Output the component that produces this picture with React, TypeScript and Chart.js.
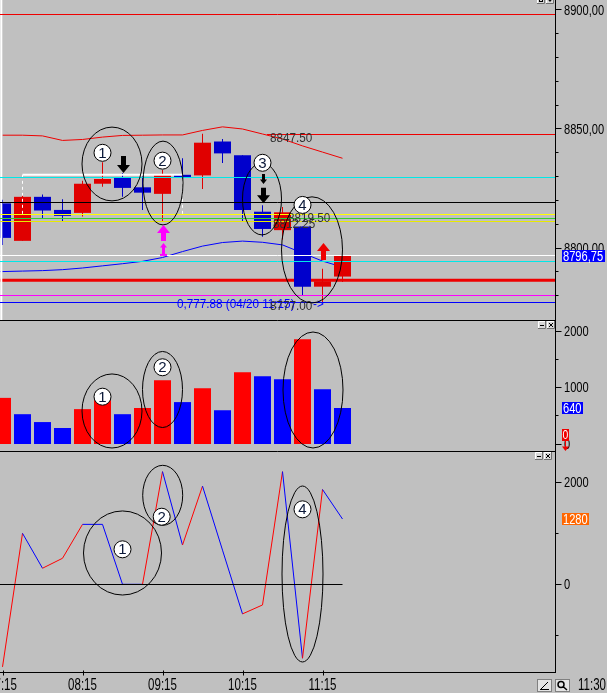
import React, { useEffect, useRef } from 'react';
import { Chart, registerables } from 'chart.js';

Chart.register(...registerables);

// ------------------------------------------------------------------ data
const times = ['07:15', '07:30', '07:45', '08:00', '08:15', '08:30', '08:45', '09:00', '09:15', '09:30', '09:45', '10:00', '10:15', '10:30', '10:45', '11:00', '11:15', '11:30'];
const opens = [8818.75, 8803.0, 8821.5, 8816.0, 8814.75, 8827.0, 8829.5, 8825.5, 8822.75, 8830.75, 8830.5, 8844.75, 8839.0, 8815.25, 8807.5, 8809.0, 8783.75, 8788.0];
const highs = [8820.25, 8823.0, 8822.5, 8820.5, 8828.25, 8836.0, 8831.5, 8830.0, 8832.75, 8837.75, 8848.0, 8845.75, 8839.0, 8818.0, 8817.25, 8809.0, 8791.25, 8796.75];
const lows = [8801.25, 8803.0, 8812.25, 8811.25, 8813.25, 8825.75, 8821.5, 8816.0, 8811.0, 8829.25, 8824.75, 8835.75, 8811.25, 8804.75, 8803.5, 8780.25, 8777.0, 8785.75];
const closes = [8804.25, 8821.5, 8815.75, 8813.5, 8827.0, 8829.0, 8825.25, 8823.25, 8830.75, 8829.75, 8844.25, 8839.75, 8816.0, 8808.0, 8815.0, 8783.75, 8786.0, 8796.75];
const upperBand = [8847.4, 8847.4, 8847.1, 8845.2, 8845.6, 8846.6, 8847.3, 8847.4, 8847.5, 8847.5, 8849.4, 8850.9, 8850.0, 8847.9, 8845.8, 8842.9, 8840.3, 8837.7];
const lowerBand = [8790.1, 8790.3, 8790.5, 8790.9, 8791.6, 8792.5, 8793.4, 8794.4, 8796.0, 8798.5, 8800.8, 8802.3, 8802.9, 8802.4, 8801.3, 8797.9, 8794.5, 8792.0];
const volumes = [820, 530, 390, 285, 620, 780, 530, 640, 1135, 745, 990, 600, 1275, 1205, 1150, 1860, 975, 640];
const volumeUp = [true, false, false, false, true, true, false, true, true, false, true, false, true, false, false, true, false, false];
const oscValues = [-1620, 1000, 315, 510, 1175, 1175, 0, 0, 2210, 770, 1925, 670, -580, -405, 2210, -1450, 1860, 1280];

// horizontal price levels (full width)
const levelPrices = [8898.0, 8829.75, 8819.0, 8814.25, 8812.25, 8811.25, 8796.75, 8794.25, 8780.0, 8777.0];
const supportPrice = 8786.5;
const rayPrice = 8847.5;
const rayStartIndex = 13.225;
const boxTopPrice = 8830.75;
const boxBottomPrice = 8814.0;
const boxFromIndex = 1;
const boxToIndex = 9;
const oscBaseline = 0;

// axis ticks
const priceTicks = [8780, 8790, 8800, 8810, 8820, 8830, 8840, 8850, 8860, 8870, 8880, 8890, 8900];
const priceLabelTicks = [8800, 8850, 8900];
const volumeTicks = [0, 500, 1000, 1500, 2000];
const volumeLabelTicks = [0, 1000, 2000];
const oscTicks = [-1000, 0, 1000, 2000];
const oscLabelTicks = [0, 2000];
const timeTickIndex = [0, 4, 8, 12, 16];
const lastTime = '11:30';

// annotations, in data coordinates (index, value)
const priceEllipses = [
  { x: 5.475, y: 8835.3, rx: 1.5, ry: 15.5 },
  { x: 8.025, y: 8827.3, rx: 1.0, ry: 17.6 },
  { x: 12.975, y: 8820.6, rx: 0.975, ry: 15.1 },
  { x: 15.475, y: 8799.2, rx: 1.525, ry: 22.3 },
];
const priceBadges = [
  { n: '1', x: 5, y: 8840.0 },
  { n: '2', x: 8, y: 8836.7 },
  { n: '3', x: 13, y: 8835.8 },
  { n: '4', x: 15, y: 8818.1 },
];
const priceArrows = [
  { x: 6, tip: 8831.5, tail: 8838.7, color: 'black', size: 'big', base: false },
  { x: 13, tip: 8826.9, tail: 8831.1, color: 'black', size: 'small', base: false },
  { x: 13, tip: 8818.8, tail: 8825.3, color: 'black', size: 'big', base: false },
  { x: 8, tip: 8809.7, tail: 8802.9, color: 'magenta', size: 'big', base: false },
  { x: 8, tip: 8802.1, tail: 8797.1, color: 'magenta', size: 'small', base: true },
  { x: 16, tip: 8802.1, tail: 8795.0, color: 'red', size: 'big', base: false },
];
const priceNotes = [
  { text: '8847.50', x: 13.375, y: 8846.2, color: 'dark' },
  { text: '0,777.88 (04/20 11:15)', x: 8.725, y: 8776.3, color: 'blue' },
  { text: '->', x: 15.525, y: 8776.3, color: 'blue' },
  { text: '8812.25', x: 13.525, y: 8810.1, color: 'dark' },
  { text: '8819.50', x: 14.275, y: 8812.4, color: 'dark' },
  { text: '8777.00', x: 13.375, y: 8775.4, color: 'dark' },
];
const volumeEllipses = [
  { x: 5.475, y: 587, rx: 1.5, ry: 658 },
  { x: 8.0, y: 969, rx: 1.0, ry: 676 },
  { x: 15.525, y: 960, rx: 1.5, ry: 1031 },
];
const volumeBadges = [
  { n: '1', x: 5, y: 841 },
  { n: '2', x: 8, y: 1364 },
];
const oscEllipses = [
  { x: 6.0, y: 614, rx: 1.95, ry: 824 },
  { x: 8.01, y: 1745, rx: 1.0, ry: 588 },
  { x: 15.0, y: 202, rx: 1.025, ry: 1725 },
];
const oscBadges = [
  { n: '1', x: 6, y: 686 },
  { n: '2', x: 7.96, y: 1325 },
  { n: '4', x: 15, y: 1470 },
];

// ------------------------------------------------------------------ styles
const BG = '#c0c0c0';
const FONT = '"Liberation Sans", Arial, sans-serif';
const AXIS_FONT_SIZE = 15;
const AXIS_SQUEEZE = 0.74;
const CANDLE_UP = '#e00000';
const CANDLE_DN = '#0000cc';
const VOL_UP = '#ff0000';
const VOL_DN = '#0000ff';
const LEVEL_STYLES = ['#ee0000', '#00e8e8', '#000000', '#ffff00', '#30d030', '#e8e800', '#ffffff', '#00e8e8', '#ff00ff', '#0000ff'];
const ARROW_COLORS: Record<string, string> = { black: '#000000', magenta: '#ff00ff', red: '#ee0000' };
const NOTE_COLORS: Record<string, string> = { dark: '#303030', blue: '#0000ff' };

const X_MIN = -0.125;
const X_MAX = 27.625;
const AXIS_W = 52;

const idx = times.map((_, i) => i);
const fmtPrice = (v: number) => v.toFixed(2).replace('.', ',');

// ------------------------------------------------------------------ drawing helpers
function squeezedText(ctx: any, text: string, x: number, y: number, size: number, squeeze: number, align: string) {
  ctx.font = `${size}px ${FONT}`;
  ctx.textAlign = align;
  ctx.textBaseline = 'middle';
  const w = ctx.measureText(text).width * squeeze;
  ctx.fillText(text, x, y, w);
}

function crispY(scale: any, v: number) {
  return Math.round(scale.getPixelForValue(v) - 0.5) + 0.5;
}

function drawLevels(chart: any) {
  const ctx = chart.ctx, xs = chart.scales.x, ys = chart.scales.y;
  ctx.save();
  ctx.lineWidth = 1;
  levelPrices.forEach((p, k) => {
    const y = crispY(ys, p);
    ctx.strokeStyle = LEVEL_STYLES[k];
    ctx.beginPath();
    ctx.moveTo(xs.getPixelForValue(X_MIN), y);
    ctx.lineTo(xs.getPixelForValue(X_MAX), y);
    ctx.stroke();
  });
  const ry = crispY(ys, rayPrice);
  ctx.strokeStyle = '#ee0000';
  ctx.beginPath();
  ctx.moveTo(xs.getPixelForValue(rayStartIndex), ry);
  ctx.lineTo(xs.getPixelForValue(X_MAX), ry);
  ctx.stroke();
  ctx.restore();
}

function drawEllipses(chart: any, list: any[]) {
  const ctx = chart.ctx, xs = chart.scales.x, ys = chart.scales.y;
  ctx.save();
  ctx.strokeStyle = '#000';
  ctx.lineWidth = 1;
  for (const e of list) {
    const cx = xs.getPixelForValue(e.x), cy = ys.getPixelForValue(e.y);
    const rx = Math.abs(xs.getPixelForValue(e.x + e.rx) - cx);
    const ry = Math.abs(ys.getPixelForValue(e.y + e.ry) - cy);
    ctx.beginPath();
    ctx.ellipse(cx, cy, rx, ry, 0, 0, Math.PI * 2);
    ctx.stroke();
  }
  ctx.restore();
}

function drawBadges(chart: any, list: any[]) {
  const ctx = chart.ctx, xs = chart.scales.x, ys = chart.scales.y;
  ctx.save();
  for (const b of list) {
    const x = xs.getPixelForValue(b.x), y = ys.getPixelForValue(b.y);
    ctx.beginPath();
    ctx.arc(x, y, 8.5, 0, Math.PI * 2);
    ctx.fillStyle = '#ffffff';
    ctx.fill();
    ctx.strokeStyle = '#000';
    ctx.lineWidth = 1;
    ctx.stroke();
    ctx.fillStyle = '#0a1838';
    squeezedText(ctx, b.n, x, y + 1, 15, 1, 'center');
  }
  ctx.restore();
}

function drawArrows(chart: any, list: any[]) {
  const ctx = chart.ctx, xs = chart.scales.x, ys = chart.scales.y;
  ctx.save();
  for (const a of list) {
    const x = Math.round(xs.getPixelForValue(a.x)) + 0.5;
    const yTip = ys.getPixelForValue(a.tip);
    const yTail = ys.getPixelForValue(a.tail);
    const dir = yTail > yTip ? 1 : -1;
    const big = a.size === 'big';
    const headW = big ? 13 : 7;
    const headL = big ? 8 : 4.5;
    const shaftW = big ? 5 : 3;
    const yNeck = yTip + dir * headL;
    ctx.fillStyle = ARROW_COLORS[a.color];
    ctx.beginPath();
    ctx.moveTo(x, yTip);
    ctx.lineTo(x + headW / 2, yNeck);
    ctx.lineTo(x + shaftW / 2, yNeck);
    ctx.lineTo(x + shaftW / 2, yTail);
    ctx.lineTo(x - shaftW / 2, yTail);
    ctx.lineTo(x - shaftW / 2, yNeck);
    ctx.lineTo(x - headW / 2, yNeck);
    ctx.closePath();
    ctx.fill();
    if (a.base) ctx.fillRect(x - headW / 2, yTail - 1, headW, 2);
  }
  ctx.restore();
}

function drawNotes(chart: any, list: any[]) {
  const ctx = chart.ctx, xs = chart.scales.x, ys = chart.scales.y;
  ctx.save();
  for (const n of list) {
    ctx.fillStyle = NOTE_COLORS[n.color];
    squeezedText(ctx, n.text, xs.getPixelForValue(n.x), ys.getPixelForValue(n.y), 13, 0.9, 'left');
  }
  ctx.restore();
}

function drawAxisDecor(chart: any, ticks: number[], labelTicks: number[], fmt: (v: number) => string, topLine: boolean) {
  const ctx = chart.ctx, ys = chart.scales.y, area = chart.chartArea;
  const ax = Math.round(area.right) + 0.5;
  ctx.save();
  ctx.strokeStyle = '#000';
  ctx.lineWidth = 1;
  ctx.beginPath();
  ctx.moveTo(ax, 0);
  ctx.lineTo(ax, area.bottom + 1);
  for (const v of ticks) {
    const py = crispY(ys, v);
    const len = labelTicks.includes(v) ? 6 : 3;
    ctx.moveTo(ax, py);
    ctx.lineTo(ax + len, py);
  }
  if (topLine) {
    ctx.moveTo(0, 0.5);
    ctx.lineTo(ax, 0.5);
  }
  ctx.stroke();
  ctx.fillStyle = '#000';
  for (const v of labelTicks) {
    squeezedText(ctx, fmt(v), ax + 8.5, ys.getPixelForValue(v) + 0.5, AXIS_FONT_SIZE, AXIS_SQUEEZE, 'left');
  }
  ctx.restore();
}

function valueBox(chart: any, value: number, text: string, bg: string) {
  const ctx = chart.ctx, ys = chart.scales.y, area = chart.chartArea;
  const y = ys.getPixelForValue(value);
  ctx.save();
  ctx.font = `${AXIS_FONT_SIZE}px ${FONT}`;
  const w = Math.ceil(ctx.measureText(text).width * AXIS_SQUEEZE) + 2;
  const x = Math.round(area.right) + 7;
  const top = Math.round(y - 6);
  ctx.fillStyle = bg;
  ctx.fillRect(x, top, w, 12);
  ctx.fillStyle = '#ffffff';
  squeezedText(ctx, text, x + 1, top + 6.5, AXIS_FONT_SIZE, AXIS_SQUEEZE, 'left');
  ctx.restore();
}

function panelIcons(ctx: any, x: number, y: number, glyphs: string[]) {
  ctx.save();
  glyphs.forEach((g, k) => {
    const bx = x + k * 9;
    ctx.fillStyle = '#d8d8d8';
    ctx.fillRect(bx, y, 8, 8);
    ctx.strokeStyle = '#ffffff';
    ctx.lineWidth = 1;
    ctx.beginPath();
    ctx.moveTo(bx + 0.5, y + 8);
    ctx.lineTo(bx + 0.5, y + 0.5);
    ctx.lineTo(bx + 8, y + 0.5);
    ctx.stroke();
    ctx.strokeStyle = '#707070';
    ctx.beginPath();
    ctx.moveTo(bx + 7.5, y);
    ctx.lineTo(bx + 7.5, y + 7.5);
    ctx.lineTo(bx, y + 7.5);
    ctx.stroke();
    ctx.strokeStyle = '#000';
    ctx.fillStyle = '#000';
    ctx.beginPath();
    if (g === '-') {
      ctx.moveTo(bx + 2, y + 4.5);
      ctx.lineTo(bx + 6, y + 4.5);
      ctx.stroke();
    } else if (g === 'x') {
      ctx.moveTo(bx + 2, y + 2);
      ctx.lineTo(bx + 6, y + 6);
      ctx.moveTo(bx + 6, y + 2);
      ctx.lineTo(bx + 2, y + 6);
      ctx.stroke();
    } else if (g === 'box') {
      ctx.strokeRect(bx + 2.5, y + 2.5, 3, 3);
    } else if (g === 'down') {
      ctx.moveTo(bx + 1.5, y + 3);
      ctx.lineTo(bx + 6.5, y + 3);
      ctx.lineTo(bx + 4, y + 6);
      ctx.closePath();
      ctx.fill();
    }
  });
  ctx.restore();
}

function yScale(min: number, max: number) {
  return {
    type: 'linear',
    position: 'right',
    min,
    max,
    offset: false,
    grid: { drawOnChartArea: false, drawTicks: false, color: 'rgba(0,0,0,0)' },
    border: { display: false },
    ticks: { display: false },
    afterFit: (s: any) => {
      s.width = AXIS_W;
      s.paddingTop = 0;
      s.paddingBottom = 0;
    },
  };
}

const hiddenX = { type: 'linear', min: X_MIN, max: X_MAX, offset: false, display: false };

const commonOptions = {
  responsive: false,
  maintainAspectRatio: false,
  animation: false,
  devicePixelRatio: 1,
  events: [],
  layout: { padding: 0 },
  plugins: { legend: { display: false }, tooltip: { enabled: false } },
};

const lineDs = (data: any[], color: string, width: number, order: number, dash: number[] = []) => ({
  type: 'line',
  data,
  borderColor: color,
  borderWidth: width,
  borderDash: dash,
  pointRadius: 0,
  fill: false,
  tension: 0,
  order,
});

// ------------------------------------------------------------------ chart configs
function priceConfig(): any {
  const candleColors = idx.map((i) => (closes[i] >= opens[i] ? CANDLE_UP : CANDLE_DN));
  const datasets: any[] = [
    lineDs([{ x: -0.06, y: 8760 }, { x: -0.06, y: 8910 }], '#ffffff', 2, 0),
    lineDs([{ x: boxFromIndex, y: boxTopPrice }, { x: boxToIndex, y: boxTopPrice }], '#ffffff', 2, 1),
    lineDs([{ x: boxFromIndex, y: boxTopPrice }, { x: boxFromIndex, y: boxBottomPrice }], '#ffffff', 1, 1, [3, 3]),
    lineDs([{ x: boxToIndex, y: boxTopPrice }, { x: boxToIndex, y: boxBottomPrice }], '#ffffff', 1, 1, [3, 3]),
    {
      type: 'bar',
      data: idx.map((i) => ({ x: i, y: [opens[i], closes[i]] })),
      backgroundColor: candleColors,
      borderWidth: 0,
      barThickness: 17,
      grouped: false,
      inflateAmount: 0,
      order: 2,
    },
    {
      type: 'bar',
      data: idx.map((i) => ({ x: i, y: [lows[i], highs[i]] })),
      backgroundColor: candleColors,
      borderWidth: 0,
      barThickness: 1,
      grouped: false,
      inflateAmount: 0,
      order: 3,
    },
    lineDs([{ x: X_MIN, y: supportPrice }, { x: X_MAX, y: supportPrice }], '#ee0000', 3, 4),
    lineDs(idx.map((i) => ({ x: i, y: upperBand[i] })), '#ee0000', 1, 4),
    lineDs([{ x: X_MIN, y: lowerBand[0] }, ...idx.map((i) => ({ x: i, y: lowerBand[i] }))], '#0000ff', 1, 4),
  ];
  return {
    type: 'bar',
    data: { datasets },
    options: {
      ...commonOptions,
      scales: { x: hiddenX, y: yScale(8769.75, 8904.2) },
    },
    plugins: [
      {
        id: 'priceOverlay',
        afterDatasetsDraw(chart: any) {
          drawLevels(chart);
          drawNotes(chart, priceNotes);
          drawEllipses(chart, priceEllipses);
          drawArrows(chart, priceArrows);
          drawBadges(chart, priceBadges);
        },
        afterDraw(chart: any) {
          drawAxisDecor(chart, priceTicks, priceLabelTicks, fmtPrice, false);
          valueBox(chart, closes[closes.length - 1], fmtPrice(closes[closes.length - 1]), '#0000ff');
          panelIcons(chart.ctx, 537, -4, ['box', 'down']);
        },
      },
    ],
  };
}

function volumeConfig(): any {
  return {
    type: 'bar',
    data: {
      datasets: [
        {
          type: 'bar',
          data: idx.map((i) => ({ x: i, y: volumes[i] })),
          backgroundColor: idx.map((i) => (volumeUp[i] ? VOL_UP : VOL_DN)),
          borderWidth: 0,
          barThickness: 17,
          grouped: false,
          inflateAmount: 0,
        },
      ],
    },
    options: {
      ...commonOptions,
      scales: { x: hiddenX, y: yScale(-124.4, 2204.4) },
    },
    plugins: [
      {
        id: 'volOverlay',
        afterDatasetsDraw(chart: any) {
          drawEllipses(chart, volumeEllipses);
          drawBadges(chart, volumeBadges);
        },
        afterDraw(chart: any) {
          const ctx = chart.ctx;
          drawAxisDecor(chart, volumeTicks, volumeLabelTicks, (v) => String(v), true);
          valueBox(chart, volumes[volumes.length - 1], String(volumes[volumes.length - 1]), '#0000ff');
          // red zero marker
          const y0 = chart.scales.y.getPixelForValue(0);
          const x0 = Math.round(chart.chartArea.right) + 7;
          ctx.save();
          ctx.fillStyle = '#ee0000';
          ctx.fillRect(x0, Math.round(y0 - 15), 7, 12);
          ctx.fillStyle = '#ffffff';
          squeezedText(ctx, '0', x0 + 3.5, Math.round(y0 - 15) + 6.5, 13, 0.8, 'center');
          ctx.fillStyle = '#ee0000';
          ctx.beginPath();
          ctx.moveTo(x0, y0 + 2.5);
          ctx.lineTo(x0 + 7, y0 + 2.5);
          ctx.lineTo(x0 + 3.5, y0 + 7);
          ctx.closePath();
          ctx.fill();
          ctx.fillRect(x0 + 3, y0 - 4, 1, 7);
          ctx.restore();
          panelIcons(ctx, 538, 1, ['-', 'x']);
        },
      },
    ],
  };
}

function oscConfig(): any {
  return {
    type: 'line',
    data: {
      datasets: [
        {
          ...lineDs(idx.map((i) => ({ x: i, y: oscValues[i] })), '#ff0000', 1, 2),
          segment: {
            borderColor: (c: any) => (c.p1.parsed.y > c.p0.parsed.y ? '#ff0000' : '#0000ff'),
          },
        },
      ],
    },
    options: {
      ...commonOptions,
      scales: {
        x: {
          type: 'linear',
          position: 'bottom',
          min: X_MIN,
          max: X_MAX,
          offset: false,
          grid: { drawOnChartArea: false, drawTicks: false, color: 'rgba(0,0,0,0)' },
          border: { display: false },
          ticks: { display: false },
          afterFit: (s: any) => {
            s.height = 21;
            s.paddingLeft = 0;
            s.paddingRight = 0;
          },
        },
        y: yScale(-1719.6, 2613.7),
      },
    },
    plugins: [
      {
        id: 'oscOverlay',
        afterDatasetsDraw(chart: any) {
          const ctx = chart.ctx, xs = chart.scales.x, ys = chart.scales.y;
          ctx.save();
          ctx.strokeStyle = '#000';
          ctx.lineWidth = 1;
          ctx.beginPath();
          const zy = crispY(ys, oscBaseline);
          ctx.moveTo(xs.getPixelForValue(X_MIN), zy);
          ctx.lineTo(xs.getPixelForValue(idx[idx.length - 1]), zy);
          ctx.stroke();
          ctx.restore();
          drawEllipses(chart, oscEllipses);
          drawBadges(chart, oscBadges);
        },
        afterDraw(chart: any) {
          const ctx = chart.ctx, area = chart.chartArea, xs = chart.scales.x;
          drawAxisDecor(chart, oscTicks, oscLabelTicks, (v) => String(v), true);
          valueBox(chart, oscValues[oscValues.length - 1], String(oscValues[oscValues.length - 1]), '#ff6600');
          ctx.save();
          ctx.strokeStyle = '#000';
          ctx.lineWidth = 1;
          ctx.beginPath();
          const by = Math.round(area.bottom) + 0.5;
          ctx.moveTo(0, by);
          ctx.lineTo(Math.round(area.right) + 1, by);
          for (const t of timeTickIndex) {
            const tx = Math.round(xs.getPixelForValue(t)) + 0.5;
            ctx.moveTo(tx, by - 2);
            ctx.lineTo(tx, by + 3);
          }
          ctx.stroke();
          const ty = Math.round(area.bottom) + 7;
          ctx.fillStyle = '#000';
          for (const t of timeTickIndex) {
            squeezedText(ctx, times[t], xs.getPixelForValue(t), ty + 7, 16, 0.72, 'center');
          }
          // bottom-right tool buttons
          [537, 555].forEach((bx, k) => {
            ctx.fillStyle = '#e4e4e4';
            ctx.fillRect(bx, ty, 15, 13);
            ctx.strokeStyle = '#808080';
            ctx.strokeRect(bx + 0.5, ty + 0.5, 14, 12);
            ctx.strokeStyle = '#000';
            ctx.beginPath();
            if (k === 0) {
              ctx.moveTo(bx + 4, ty + 10);
              ctx.lineTo(bx + 11, ty + 3);
              ctx.moveTo(bx + 3, ty + 10.5);
              ctx.lineTo(bx + 12, ty + 10.5);
              ctx.stroke();
            } else {
              ctx.lineWidth = 1.5;
              ctx.arc(bx + 6, ty + 5.5, 3, 0, Math.PI * 2);
              ctx.moveTo(bx + 8, ty + 7.5);
              ctx.lineTo(bx + 12, ty + 11);
              ctx.stroke();
              ctx.lineWidth = 1;
            }
          });
          ctx.fillStyle = '#000';
          squeezedText(ctx, lastTime, 606, ty + 7, 16, 0.72, 'right');
          ctx.restore();
          panelIcons(ctx, 535, 1, ['-', 'x']);
        },
      },
    ],
  };
}

// ------------------------------------------------------------------ component
export default function App() {
  const priceRef = useRef<HTMLCanvasElement>(null);
  const volRef = useRef<HTMLCanvasElement>(null);
  const oscRef = useRef<HTMLCanvasElement>(null);

  useEffect(() => {
    const charts = [
      new Chart(priceRef.current as HTMLCanvasElement, priceConfig()),
      new Chart(volRef.current as HTMLCanvasElement, volumeConfig()),
      new Chart(oscRef.current as HTMLCanvasElement, oscConfig()),
    ];
    return () => charts.forEach((c) => c.destroy());
  }, []);

  return (
    <div style={{ position: 'fixed', left: 0, top: 0, width: 607, height: 693, background: BG, overflow: 'hidden' }}>
      <canvas ref={priceRef} width={607} height={320} style={{ position: 'absolute', left: 0, top: 0, width: 607, height: 320 }} />
      <canvas ref={volRef} width={607} height={131} style={{ position: 'absolute', left: 0, top: 320, width: 607, height: 131 }} />
      <canvas ref={oscRef} width={607} height={242} style={{ position: 'absolute', left: 0, top: 451, width: 607, height: 242 }} />
    </div>
  );
}
